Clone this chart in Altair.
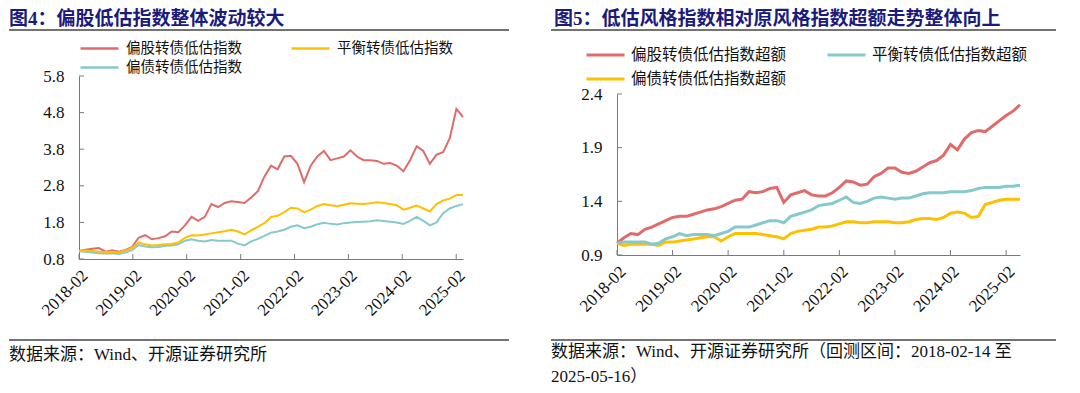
import altair as alt
import pandas as pd

# ---------------- text ----------------
TITLE4 = "图4：偏股低估指数整体波动较大"
TITLE5 = "图5：低估风格指数相对原风格指数超额走势整体向上"
SOURCE4 = "数据来源：Wind、开源证券研究所"
SOURCE5 = "数据来源：Wind、开源证券研究所（回测区间：2018-02-14 至\n2025-05-16）"

# legend order is column-major in a 2-column legend grid
names4 = ["偏股转债低估指数", "偏债转债低估指数", "平衡转债低估指数"]
colors4 = ["#E06B6B", "#86C9CD", "#FFC000"]
names5 = ["偏股转债低估指数超额", "偏债转债低估指数超额", "平衡转债低估指数超额"]
colors5 = ["#E06B6B", "#FFC000", "#86C9CD"]

# ---------------- data ----------------
dates4 = pd.date_range("2018-02-14", "2025-04-01", periods=59)
equity4 = [1.02, 1.05, 1.08, 1.10, 1.00, 1.04, 1.00, 1.05, 1.12, 1.38,
           1.45, 1.34, 1.37, 1.42, 1.55, 1.53, 1.72, 1.95, 1.84, 1.95,
           2.30, 2.22, 2.33, 2.38, 2.36, 2.33, 2.48, 2.65, 3.05, 3.35,
           3.25, 3.60, 3.62, 3.40, 2.90, 3.35, 3.60, 3.75, 3.50, 3.55,
           3.60, 3.77, 3.60, 3.50, 3.50, 3.48, 3.40, 3.42, 3.35, 3.20,
           3.50, 3.88, 3.75, 3.40, 3.65, 3.72, 4.10, 4.90, 4.68]
balanced4 = [1.02, 1.03, 1.02, 1.00, 0.99, 1.00, 0.98, 1.03, 1.10, 1.25,
             1.20, 1.17, 1.18, 1.20, 1.21, 1.25, 1.38, 1.45, 1.44, 1.47,
             1.50, 1.53, 1.56, 1.60, 1.55, 1.47, 1.58, 1.68, 1.78, 1.95,
             1.98, 2.08, 2.20, 2.18, 2.08, 2.15, 2.25, 2.30, 2.27, 2.24,
             2.28, 2.32, 2.31, 2.30, 2.32, 2.35, 2.33, 2.30, 2.27, 2.15,
             2.20, 2.26, 2.18, 2.10, 2.30, 2.40, 2.45, 2.55, 2.55]
bond4 = [1.01, 1.00, 0.98, 0.96, 0.95, 0.96, 0.94, 0.98, 1.04, 1.18,
         1.14, 1.12, 1.13, 1.16, 1.17, 1.20, 1.30, 1.34, 1.30, 1.28,
         1.32, 1.30, 1.30, 1.30, 1.22, 1.17, 1.28, 1.35, 1.43, 1.52,
         1.55, 1.60, 1.68, 1.72, 1.64, 1.68, 1.75, 1.79, 1.76, 1.74,
         1.78, 1.80, 1.81, 1.82, 1.83, 1.86, 1.84, 1.82, 1.80, 1.76,
         1.84, 1.95, 1.84, 1.72, 1.80, 2.05, 2.18, 2.25, 2.30]

dates5 = pd.date_range("2018-02-14", "2025-05-16", periods=59)
equity5 = [1.01, 1.06, 1.10, 1.09, 1.14, 1.16, 1.19, 1.22, 1.25, 1.26,
           1.26, 1.28, 1.30, 1.32, 1.33, 1.35, 1.38, 1.41, 1.42, 1.49,
           1.48, 1.49, 1.52, 1.53, 1.39, 1.46, 1.48, 1.50, 1.46, 1.45,
           1.45, 1.48, 1.53, 1.59, 1.58, 1.55, 1.56, 1.63, 1.66, 1.71,
           1.71, 1.67, 1.66, 1.68, 1.72, 1.76, 1.78, 1.83, 1.93, 1.88,
           1.98, 2.04, 2.06, 2.05, 2.10, 2.15, 2.20, 2.24, 2.30]
balanced5 = [1.01, 1.02, 1.02, 1.02, 1.02, 1.00, 1.01, 1.05, 1.07, 1.10,
             1.08, 1.09, 1.09, 1.09, 1.08, 1.10, 1.12, 1.16, 1.16, 1.16,
             1.18, 1.20, 1.22, 1.22, 1.20, 1.26, 1.28, 1.30, 1.32, 1.36,
             1.37, 1.38, 1.41, 1.44, 1.39, 1.38, 1.40, 1.43, 1.44, 1.43,
             1.42, 1.43, 1.43, 1.45, 1.47, 1.48, 1.48, 1.48, 1.49, 1.49,
             1.49, 1.50, 1.52, 1.53, 1.53, 1.53, 1.54, 1.54, 1.55]
bond5 = [1.01, 0.99, 1.00, 1.00, 1.00, 1.00, 0.99, 1.02, 1.02, 1.03,
         1.04, 1.05, 1.06, 1.07, 1.07, 1.03, 1.07, 1.10, 1.10, 1.10,
         1.10, 1.09, 1.08, 1.07, 1.05, 1.10, 1.12, 1.13, 1.14, 1.16,
         1.16, 1.17, 1.19, 1.21, 1.21, 1.20, 1.20, 1.21, 1.21, 1.21,
         1.20, 1.20, 1.21, 1.23, 1.24, 1.24, 1.23, 1.25, 1.29, 1.30,
         1.29, 1.25, 1.26, 1.37, 1.39, 1.41, 1.42, 1.42, 1.42]

xtick_years = [2018, 2019, 2020, 2021, 2022, 2023, 2024, 2025]
yticks4 = [0.8, 1.8, 2.8, 3.8, 4.8, 5.8]
yticks5 = [0.9, 1.4, 1.9, 2.4]

# ---------------- style ----------------
CJK = "Noto Sans CJK SC"
SERIF = "Liberation Serif"
MIXED = "Liberation Serif, Noto Sans CJK SC"
TITLE_COLOR = "#1B1B7D"
AXIS_COLOR = "#7a7a7a"
RULE_COLOR = "#444444"
TEXT_COLOR = "#111111"


def long_df(dates, names, series):
    rows = []
    for name, vals in zip(names, series):
        for d, v in zip(dates, vals):
            rows.append({"date": d, "value": v, "series": name})
    return pd.DataFrame(rows)


df4 = long_df(dates4, names4, [equity4, bond4, balanced4])
df5 = long_df(dates5, names5, [equity5, bond5, balanced5])
xtick_df = pd.DataFrame({"date": [pd.Timestamp(f"{y}-02-14") for y in xtick_years]})
xtick_values = [alt.DateTime(year=y, month=2, date=14) for y in xtick_years]


def text_layer(txt, x, y, size, color, font, weight="normal", baseline="middle", line_height=None):
    kw = dict(align="left", baseline=baseline, fontSize=size, font=font,
              fontWeight=weight, color=color, lineBreak="\n")
    if line_height:
        kw["lineHeight"] = line_height
    return alt.Chart(pd.DataFrame({"t": [txt]})).mark_text(**kw).encode(
        x=alt.value(x), y=alt.value(y), text="t:N")


def hline(x1, x2, y):
    return alt.Chart(pd.DataFrame({"a": [0]})).mark_rule(
        color=RULE_COLOR, strokeWidth=1.3).encode(
        x=alt.value(x1), x2=alt.value(x2), y=alt.value(y))


def panel(df, names, colors, yticks, ydom, width, height, yrange, stroke_w,
          legend, title, title_x, head_x1, head_x2, source, src_y, src_lh):
    xaxis = alt.Axis(values=xtick_values, format="%Y-%m", labelAngle=-45,
                     ticks=False, labelPadding=8, grid=False, labelOverlap=False,
                     domainColor=AXIS_COLOR, labelFont=SERIF,
                     labelFontSize=17, labelColor=TEXT_COLOR)
    xscale = alt.Scale(nice=False)
    if yrange is not None:
        yscale = alt.Scale(domain=ydom, nice=False, zero=False, range=yrange)
    else:
        yscale = alt.Scale(domain=ydom, nice=False, zero=False)
    yaxis = alt.Axis(values=yticks, format=".1f", ticks=False,
                     labelPadding=15, grid=False, domainColor=AXIS_COLOR,
                     labelOverlap=False, labelFont=SERIF, labelFontSize=17,
                     labelColor=TEXT_COLOR)
    xenc = alt.X("date:T", title=None, scale=xscale, axis=xaxis)
    yenc = alt.Y("value:Q", title=None, scale=yscale, axis=yaxis)
    lines = alt.Chart(df).mark_line(strokeWidth=stroke_w).encode(
        x=xenc, y=yenc,
        color=alt.Color("series:N", scale=alt.Scale(domain=names, range=colors),
                        legend=legend),
        detail="series:N",
    )
    ytk = alt.Chart(pd.DataFrame({"value": yticks})).mark_rule(
        color=AXIS_COLOR).encode(y=yenc, x=alt.value(0), x2=alt.value(5))
    xtk = alt.Chart(xtick_df).mark_rule(color=AXIS_COLOR).encode(
        x=xenc, y=alt.value(height), y2=alt.value(height - 5))
    layers = [lines, ytk, xtk,
              text_layer(title, title_x, -57, 19, TITLE_COLOR, MIXED, weight="bold"),
              hline(head_x1, head_x2, -46),
              hline(head_x1, head_x2, 264),
              text_layer(source, head_x1, src_y, 17, TEXT_COLOR, MIXED,
                         baseline="alphabetic", line_height=src_lh)]
    return alt.layer(*layers).properties(width=width, height=height)


legend4 = alt.Legend(title=None, orient="none", legendX=0, legendY=-37, columns=2,
                     symbolType="stroke", symbolSize=1444, symbolStrokeWidth=2.5,
                     labelFont=CJK, labelFontSize=14.5, labelColor=TEXT_COLOR,
                     labelOffset=6, columnPadding=48, rowPadding=0, clipHeight=19,
                     padding=0, labelLimit=400)
legend5 = alt.Legend(title=None, orient="none", legendX=-32, legendY=-33, columns=2,
                     symbolType="stroke", symbolSize=1444, symbolStrokeWidth=3,
                     labelFont=CJK, labelFontSize=15.5, labelColor=TEXT_COLOR,
                     labelOffset=5, columnPadding=39, rowPadding=0, clipHeight=24,
                     padding=0, labelLimit=400)

left = panel(df4, names4, colors4, yticks4, [0.8, 5.8], 384, 183, None, 2,
             legend4, TITLE4, -70, -70, 430, SOURCE4, 284, None)
right = panel(df5, names5, colors5, yticks5, [0.9, 2.4], 403, 179, [179, 18], 3,
              legend5, TITLE5, -63, -66, 439, SOURCE5, 281, 25)

chart = alt.hconcat(left, right, spacing=154, bounds="flush").resolve_scale(
    color="independent", x="independent", y="independent"
).properties(padding={"left": 0, "top": 2, "right": 0, "bottom": 0},
             background="white").configure_view(stroke=None).configure_axis(
    labelOverlap=False)

chart.save("out.html", embed_options={"renderer": "svg", "actions": False})
